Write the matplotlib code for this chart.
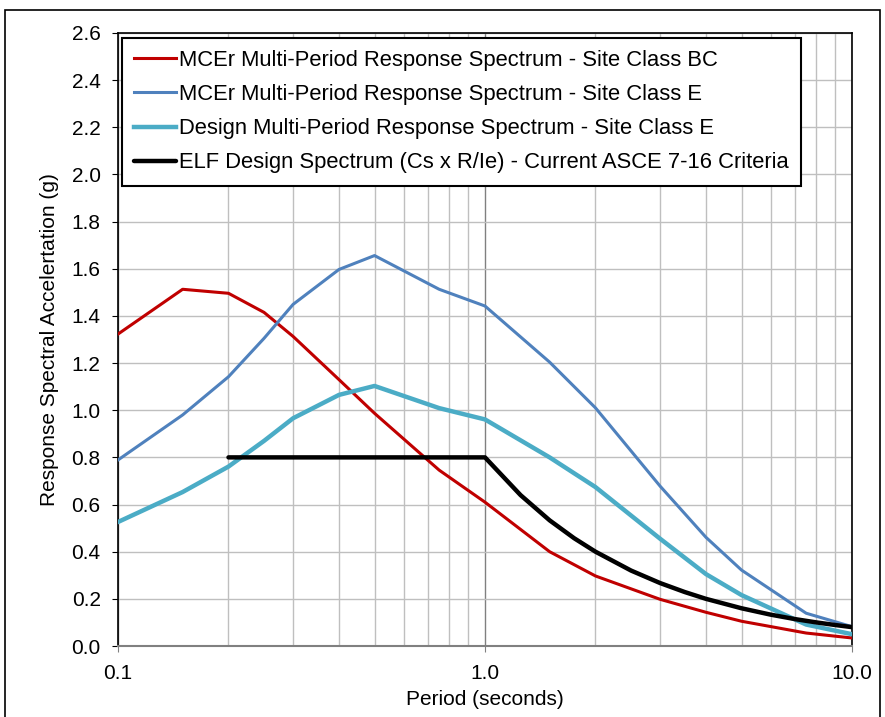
import matplotlib
matplotlib.use("Agg")
import matplotlib.pyplot as plt
from matplotlib.patches import Rectangle
from matplotlib.ticker import FixedLocator, LogLocator, NullFormatter

plt.rcParams['font.family'] = ['Liberation Sans', 'DejaVu Sans']

# periods (s) and spectral values (g)
period = [0.1, 0.15, 0.2, 0.25, 0.3, 0.4, 0.5, 0.75, 1.0, 1.5, 2.0, 3.0, 4.0, 5.0, 7.5, 10.0]
mcer_bc = [1.323, 1.513, 1.496, 1.415, 1.313, 1.13, 0.987, 0.746, 0.61, 0.40, 0.297, 0.198, 0.143, 0.105, 0.055, 0.034]
mcer_e = [0.789, 0.98, 1.142, 1.305, 1.449, 1.597, 1.656, 1.513, 1.442, 1.204, 1.01, 0.678, 0.461, 0.322, 0.139, 0.082]
design_e = [0.526, 0.653, 0.761, 0.87, 0.966, 1.065, 1.103, 1.009, 0.961, 0.80, 0.674, 0.455, 0.305, 0.216, 0.091, 0.05]

elf_period = [0.2, 1.0, 1.25, 1.5, 1.75, 2.0, 2.5, 3.0, 3.5, 4.0, 5.0, 6.0, 7.0, 8.0, 9.0, 10.0]
elf = [0.8, 0.8, 0.64, 0.533, 0.457, 0.40, 0.32, 0.267, 0.229, 0.20, 0.16, 0.133, 0.114, 0.10, 0.089, 0.08]

labels = ['MCEr Multi-Period Response Spectrum - Site Class BC',
          'MCEr Multi-Period Response Spectrum - Site Class E',
          'Design Multi-Period Response Spectrum - Site Class E',
          'ELF Design Spectrum (Cs x R/Ie) - Current ASCE 7-16 Criteria']

fig = plt.figure(figsize=(8.85, 7.17), dpi=100)
ax = fig.add_axes([118/885, 1-646/717, (852-118)/885, (646-33)/717])

ax.plot(period, mcer_bc, color='#C00000', lw=2.2, label=labels[0], zorder=3)
ax.plot(period, mcer_e, color='#4F81BD', lw=2.2, label=labels[1], zorder=3)
ax.plot(period, design_e, color='#4BACC6', lw=3.2, label=labels[2], zorder=3)
ax.plot(elf_period, elf, color='black', lw=3.2, label=labels[3], zorder=4,
        solid_capstyle='round')

ax.set_xscale('log')
ax.set_xlim(0.1, 10)
ax.set_ylim(0, 2.6)
ax.xaxis.set_major_locator(FixedLocator([0.1, 1.0, 10.0]))
ax.set_xticklabels(['0.1', '1.0', '10.0'])
ax.xaxis.set_minor_locator(LogLocator(base=10, subs=range(2, 10)))
ax.xaxis.set_minor_formatter(NullFormatter())
yt = [i * 0.2 for i in range(14)]
ax.set_yticks(yt)
ax.set_yticklabels(['%.1f' % v for v in yt])

ax.grid(True, which='major', axis='x', color='#808080', lw=1.0)
ax.grid(True, which='minor', axis='x', color='#BFBFBF', lw=1.0)
ax.grid(True, which='major', axis='y', color='#BFBFBF', lw=1.0)
ax.set_axisbelow(True)

for s in ['left', 'right', 'top']:
    ax.spines[s].set_color('black')
    ax.spines[s].set_linewidth(1.2)
ax.spines['bottom'].set_color('#808080')
ax.spines['bottom'].set_linewidth(1.5)

ax.tick_params(axis='y', which='major', labelsize=15, direction='out', length=4.5,
               color='black', pad=8)
ax.tick_params(axis='x', which='minor', length=0)
ax.tick_params(axis='x', which='major', labelsize=15, direction='out', length=4,
               color='#808080', pad=9)

ax.set_xlabel('Period (seconds)', fontsize=15, labelpad=5)
ax.set_ylabel('Response Spectral Accelertation (g)', fontsize=15, labelpad=9)

leg = ax.legend(loc='upper left', bbox_to_anchor=(0.0055, 0.992), fontsize=15.8,
                fancybox=False, edgecolor='black', framealpha=1,
                handlelength=1.9, handletextpad=0.15, labelspacing=0.6,
                borderpad=0.55, borderaxespad=0)
leg.get_frame().set_linewidth(1.5)

fig.patches.append(Rectangle((5/885, -0.01), (880-5)/885, 1-10/717+0.01,
                             transform=fig.transFigure, fill=False,
                             edgecolor='black', lw=1.2))

fig.savefig('out.png', dpi=100)
